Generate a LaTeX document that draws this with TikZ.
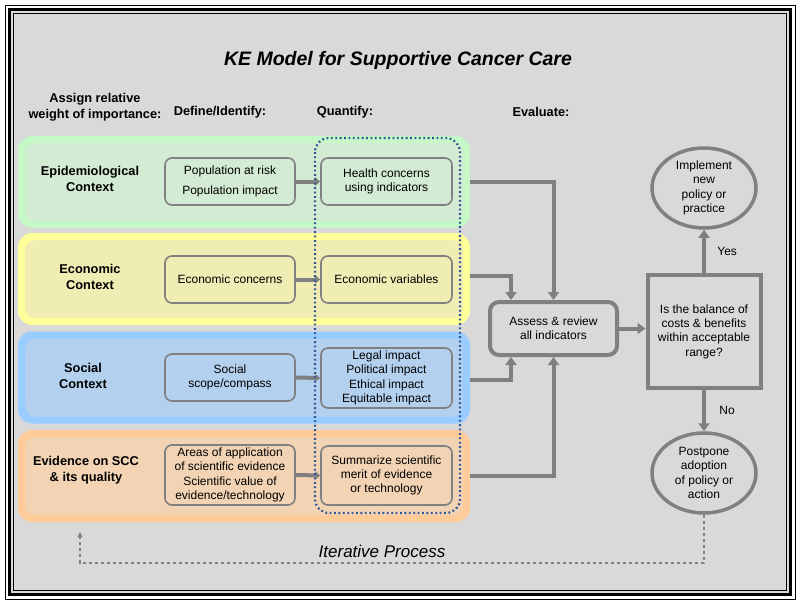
\documentclass[tikz,border=0pt]{standalone}
\usepackage{fontspec}
\setmainfont{Liberation Sans}
\usetikzlibrary{arrows.meta,shapes.geometric,positioning}

\definecolor{bgGray}{HTML}{D9D9D9}
\definecolor{lineGray}{HTML}{808080}
\definecolor{dotBlue}{HTML}{2F5597}
\definecolor{greenOut}{HTML}{C6F7C6}
\definecolor{greenIn}{HTML}{D2EBD2}
\definecolor{yellowOut}{HTML}{FFFF99}
\definecolor{yellowIn}{HTML}{EFEDB3}
\definecolor{blueOut}{HTML}{99CCFF}
\definecolor{blueIn}{HTML}{B3D0EE}
\definecolor{orangeOut}{HTML}{FFCC99}
\definecolor{orangeIn}{HTML}{F2D3B4}

\tikzset{
  band/.style={rounded corners=14pt, minimum width=452pt, minimum height=92pt, inner sep=0pt},
  bandin/.style={rounded corners=10pt, minimum width=438pt, minimum height=78pt, inner sep=0pt},
  rowlabel/.style={font=\fontsize{12.8}{15.5}\selectfont\bfseries, align=center},
  heading/.style={font=\fontsize{12.8}{16.5}\selectfont\bfseries, align=center},
  stepbox/.style={draw=lineGray, line width=1.6pt, rounded corners=7pt, align=center,
    font=\fontsize{12}{14.3}\selectfont, inner sep=0pt},
  bigbox/.style={draw=lineGray, line width=4pt, align=center,
    font=\fontsize{12}{14.3}\selectfont, inner sep=0pt},
  outcome/.style={ellipse, draw=lineGray, line width=3.5pt, align=center,
    font=\fontsize{12}{14.3}\selectfont, minimum width=104pt, minimum height=80pt, inner sep=0pt},
  smallarr/.style={draw=lineGray, line width=4pt, -{Triangle[length=5pt,width=8pt]}},
  bigarr/.style={draw=lineGray, line width=4pt, -{Triangle[length=8pt,width=11pt]}},
  iter/.style={draw=lineGray, line width=1.5pt, dash pattern=on 3pt off 3pt,
    -{Triangle[length=5pt,width=5pt]}},
}

\begin{document}
\begin{tikzpicture}[x=1pt,y=-1pt]
  \useasboundingbox (0,0) rectangle (800,605);
  %Frame
  \fill[white] (0,0) rectangle (800,605);
  \fill[bgGray] (10,10) rectangle (790,594);
  \draw[line width=0.6pt] (5,5) rectangle (795,599);
  \draw[line width=3.5pt] (9.5,9.5) rectangle (790.5,594.5);
  \draw[line width=0.8pt] (13.5,13.5) rectangle (786.5,590.5);

  % Title and headings
  \node[font=\fontsize{19.5}{23}\selectfont\bfseries\itshape] (title) at (398,60) {KE Model for Supportive Cancer Care};
  \node[heading] (hWeight) at (95,107) {Assign relative\\weight of importance:};
  \node[heading] (hDefine) at (220,112) {Define/Identify:};
  \node[heading] (hQuant) at (345,112) {Quantify:};
  \node[heading] (hEval) at (541,112) {Evaluate:};

  % Bands
  \node[band, fill=greenOut] (bandEpi) at (244,182) {};
  \node[bandin, fill=greenIn] at (bandEpi) {};
  \node[band, fill=yellowOut] (bandEco) at (244,279) {};
  \node[bandin, fill=yellowIn] at (bandEco) {};
  \node[band, fill=blueOut] (bandSoc) at (244,377.5) {};
  \node[bandin, fill=blueIn] at (bandSoc) {};
  \node[band, fill=orangeOut] (bandEvi) at (244,476) {};
  \node[bandin, fill=orangeIn] at (bandEvi) {};

  % Row labels
  \node[rowlabel] (lEpi) at (90,179) {Epidemiological\\Context};
  \node[rowlabel] (lEco) at (90,277) {Economic\\Context};
  \node[rowlabel] (lSoc) at (83,376) {Social\\Context};
  \node[rowlabel] (lEvi) at (86,470) {Evidence on SCC\\\& its quality};

  % Define/Identify
  \node[stepbox, minimum width=130pt, minimum height=47pt] (d1) at (230,181.5) {Population at risk\\[5pt]Population impact};
  \node[stepbox, minimum width=130pt, minimum height=47pt] (d2) at (230,279.5) {Economic concerns};
  \node[stepbox, minimum width=130pt, minimum height=47pt] (d3) at (230,377.5) {Social\\scope/compass};
  \node[stepbox, minimum width=130pt, minimum height=60pt] (d4) at (230,475) {Areas of application\\of scientific evidence\\Scientific value of\\evidence/technology};

  % Quantify
  \node[stepbox, minimum width=131pt, minimum height=47pt] (q1) at (386.5,181.5) {Health concerns\\using indicators};
  \node[stepbox, minimum width=131pt, minimum height=47pt] (q2) at (386.5,279.5) {Economic variables};
  \node[stepbox, minimum width=131pt, minimum height=60pt] (q3) at (386.5,378) {Legal impact\\Political impact\\Ethical impact\\Equitable impact};
  \node[stepbox, minimum width=131pt, minimum height=59pt] (q4) at (386.5,475.5) {Summarize scientific\\merit of evidence\\or technology};

  \foreach \i in {1,...,4}
    \draw[smallarr] (d\i.east) -- (q\i.west);

  % Evaluate
  \node[bigbox, rounded corners=9pt, minimum width=127pt, minimum height=53pt] (assess) at (553.5,328.5) {Assess \& review\\all indicators};
  \node[bigbox, minimum width=113pt, minimum height=113pt] (decide) at (704,331.5) {Is the balance of\\costs \& benefits\\within acceptable\\range?};
  \node[outcome] (implement) at (704,188) {Implement\\new\\policy or\\practice};
  \node[outcome] (postpone) at (704,473) {Postpone\\adoption\\of policy or\\action};

  \draw[bigarr] (bandEpi.east |- q1) -| (assess.north);
  \draw[bigarr] (bandEco.east |- 0,276) -| ([xshift=-42.5pt]assess.north);
  \draw[bigarr] (bandSoc.east |- 0,380) -| ([xshift=-42.5pt]assess.south);
  \draw[bigarr] (bandEvi.east |- q4) -| (assess.south);
  \draw[bigarr] (assess.east) -- (assess.east -| decide.west);
  \draw[bigarr] (decide.north) -- (implement.south) node[midway, right=8pt, font=\fontsize{12}{14}\selectfont] (yes) {Yes};
  \draw[bigarr] (decide.south) -- (postpone.north) node[midway, right=10pt, font=\fontsize{12}{14}\selectfont] (no) {No};

  % Iterative process
  \coordinate (iterEnd) at (80,532);
  \draw[iter] (postpone.south) -- (postpone.south |- 0,563) -| (iterEnd);
  \node[font=\fontsize{17}{20}\selectfont\itshape] (iterText) at (382,551) {Iterative Process};

  % Quantify frame
  \draw[dotBlue, line width=2.2pt, dash pattern=on 1.8pt off 2.6pt, rounded corners=14pt] (315,138) rectangle (460,513);
\end{tikzpicture}
\end{document}
